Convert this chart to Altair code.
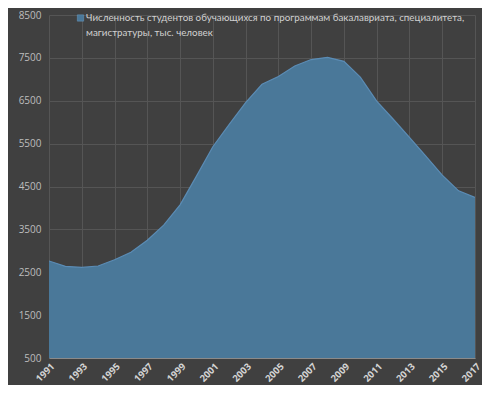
import altair as alt
import pandas as pd

years = list(range(1991, 2018))
students = [2763, 2638, 2613, 2645, 2791, 2965, 3248, 3598, 4073, 4741,
            5427, 5948, 6456, 6884, 7065, 7310, 7461, 7513, 7419, 7050,
            6490, 6075, 5647, 5209, 4766, 4399, 4246]
series_name = "Численность студентов обучающихся по программам бакалавриата, специалитета,\nмагистратуры, тыс. человек"
y_ticks = [500, 1500, 2500, 3500, 4500, 5500, 6500, 7500, 8500]
x_ticks = list(range(1991, 2018, 2))

df = pd.DataFrame({"year": years, "value": students})

FONT = "Open Sans"
x_enc = alt.X("year:Q", scale=alt.Scale(domain=[1991, 2017], nice=False, zero=False),
              axis=alt.Axis(values=x_ticks, format="d", labelAngle=-45, labelFontWeight="bold",
                            labelColor="#d4d4d4", labelFontSize=9.5, labelFont=FONT,
                            ticks=False, domain=True, domainColor="#8a8a8a",
                            gridColor="#555555", grid=True, title=None, labelPadding=3))
y_enc = alt.Y("value:Q", scale=alt.Scale(domain=[500, 8500], nice=False, zero=False),
              axis=alt.Axis(values=y_ticks, format="d", labelColor="#bdbdbd", labelFontSize=10,
                            labelFont=FONT, ticks=False, domain=False, gridColor="#555555",
                            title=None, labelPadding=8))

area = alt.Chart(df).mark_area(color="#4a7899", opacity=1, clip=True,
                               line={"color": "#5b8cb5", "strokeWidth": 1.2}).encode(
    x=x_enc, y=y_enc)

leg_df = pd.DataFrame({"label": [series_name]})
square = alt.Chart(leg_df).mark_square(size=40, color="#4a7899", opacity=1,
                                      stroke="#6a9cc5", strokeWidth=0.5).encode(
    x=alt.value(31.5), y=alt.value(3))
text = alt.Chart(leg_df).mark_text(align="left", baseline="middle", font="Lato", fontSize=9.8,
                                   color="#d0d0d0", lineBreak="\n", lineHeight=15).encode(
    x=alt.value(37), y=alt.value(3), text="label:N")

chart = alt.layer(area, square, text).properties(
    width=426, height=343, background="#404040",
    padding={"left": 41, "top": 7, "right": 7, "bottom": 27},
    autosize=alt.AutoSizeParams(type="none")
).configure_view(stroke=None)

chart.save("out.html", embed_options={"renderer": "svg", "actions": False})
